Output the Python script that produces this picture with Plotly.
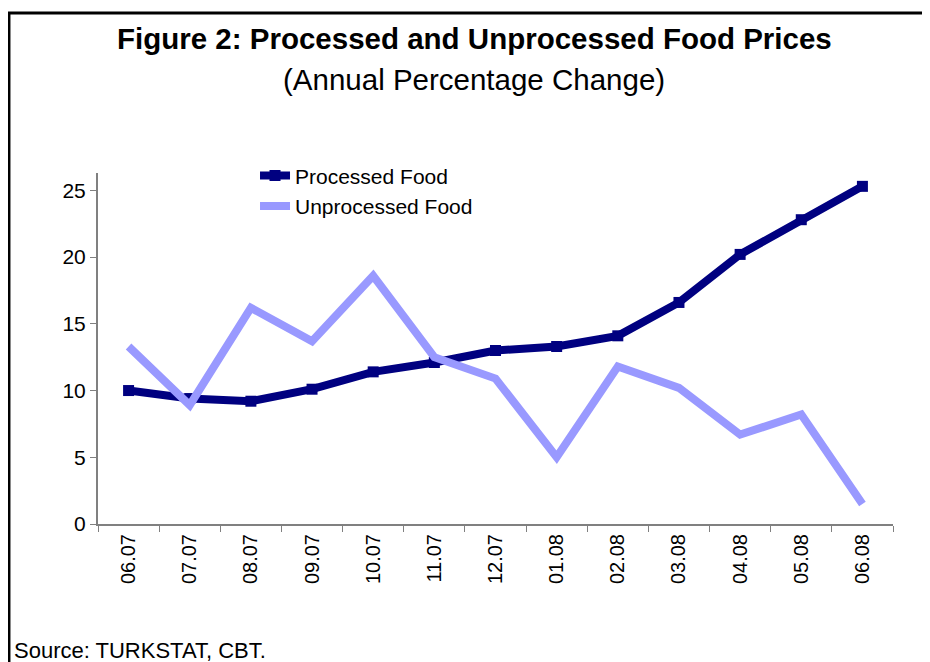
import plotly.graph_objects as go

months = ["06.07", "07.07", "08.07", "09.07", "10.07", "11.07", "12.07",
          "01.08", "02.08", "03.08", "04.08", "05.08", "06.08"]
processed = [10.0, 9.4, 9.2, 10.1, 11.4, 12.1, 13.0, 13.3, 14.1, 16.6, 20.2, 22.8, 25.3]
unprocessed = [13.3, 8.9, 16.2, 13.7, 18.6, 12.5, 10.9, 5.0, 11.8, 10.2, 6.7, 8.2, 1.5]

fnt = "Liberation Sans, Arial, sans-serif"

fig = go.Figure()
fig.add_trace(go.Scatter(x=months, y=processed, name="Processed Food", mode="lines+markers",
                         line=dict(color="#000080", width=8),
                         marker=dict(symbol="square", size=11, color="#000080")))
fig.add_trace(go.Scatter(x=months, y=unprocessed, name="Unprocessed Food", mode="lines",
                         line=dict(color="#9999FF", width=8)))

fig.update_xaxes(type="category", tickson="boundaries", ticks="outside", ticklen=6,
                 tickcolor="#808080", tickangle=-90, showline=True, linecolor="#808080",
                 linewidth=2, showgrid=False, tickfont=dict(size=20, color="black"),
                 range=[-0.5, 12.5])
fig.update_yaxes(range=[0, 26.3], tickvals=[0, 5, 10, 15, 20, 25], ticks="outside", ticklen=6,
                 tickcolor="#808080", showline=True, linecolor="#808080", linewidth=2,
                 showgrid=False, zeroline=False, tickfont=dict(size=21, color="black"))

fig.add_annotation(text="<b>Figure 2: Processed and Unprocessed Food Prices</b>",
                   x=0.473, y=1.3846, xref="paper", yref="paper", showarrow=False,
                   xanchor="center", yanchor="middle", font=dict(size=29.5, color="black"))
fig.add_annotation(text="(Annual Percentage Change)",
                   x=0.473, y=1.265, xref="paper", yref="paper", showarrow=False,
                   xanchor="center", yanchor="middle", font=dict(size=29.5, color="black"))
fig.add_annotation(text="Source: TURKSTAT, CBT.", x=-0.108, y=-0.36, xref="paper", yref="paper",
                   xanchor="left", yanchor="middle", showarrow=False,
                   font=dict(size=22, color="black"))

# frame around the figure
fig.add_shape(type="rect", xref="paper", yref="paper", x0=-0.112, x1=1.2, y0=-0.6, y1=1.456,
              line=dict(color="black", width=3))

fig.update_layout(
    width=922, height=654,
    margin=dict(l=90, r=37, t=165, b=138),
    paper_bgcolor="white", plot_bgcolor="white",
    font=dict(family=fnt, color="black"),
    legend=dict(x=0.1975, y=1.05, xanchor="left", yanchor="top", bgcolor="rgba(0,0,0,0)",
                font=dict(size=21)),
)

fig.write_html("out.html")
